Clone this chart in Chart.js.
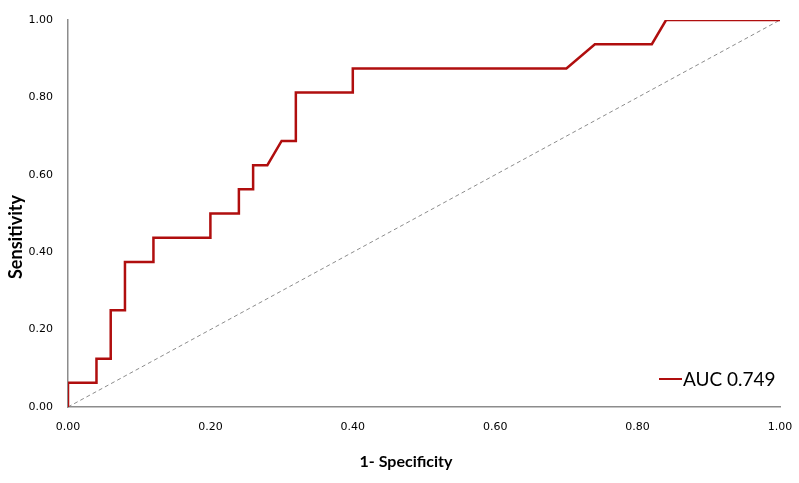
<!DOCTYPE html>
<html>
<head>
<meta charset="utf-8">
<script src="https://cdn.jsdelivr.net/npm/chart.js@4"></script>
<style>
  html, body { margin: 0; padding: 0; background: #fff; }
  #wrap { width: 799px; height: 483px; }
</style>
</head>
<body>
<div id="wrap"><canvas id="rocChart" width="799" height="483"></canvas></div>
<script>
  // ROC curve (1 - specificity vs sensitivity)
  const fpr = [0, 0, 0.04, 0.04, 0.06, 0.06, 0.08, 0.08, 0.12, 0.12, 0.20, 0.20, 0.24, 0.24,
               0.26, 0.26, 0.28, 0.30, 0.32, 0.32, 0.40, 0.40, 0.70, 0.74, 0.82, 0.84, 1.00];
  const tpr = [0, 0.0625, 0.0625, 0.125, 0.125, 0.25, 0.25, 0.375, 0.375, 0.4375, 0.4375, 0.5, 0.5, 0.5625,
               0.5625, 0.625, 0.625, 0.6875, 0.6875, 0.8125, 0.8125, 0.875, 0.875, 0.9375, 0.9375, 1, 1];
  const refX = [0, 1];
  const refY = [0, 1];
  const curveLabel = 'AUC 0.749';
  const xTitle = '1- Specificity';
  const yTitle = 'Sensitivity';

  const titleFont = 'bold 16px Lato, "Open Sans", sans-serif';

  // draws axis titles + the little legend inside the plot
  const extras = {
    id: 'extras',
    afterDraw(chart) {
      const c = chart.ctx;
      const area = chart.chartArea;
      c.save();
      c.fillStyle = '#000';
      c.textAlign = 'center';
      c.textBaseline = 'middle';
      c.font = titleFont;
      c.fillText(xTitle, 406, 462);
      c.translate(16, 237);
      c.rotate(-Math.PI / 2);
      c.font = 'bold 18px Lato, "Open Sans", sans-serif';
      c.fillText(yTitle, 0, 0);
      c.restore();

      // legend
      const ds = chart.data.datasets[0];
      c.save();
      c.strokeStyle = ds.borderColor;
      c.lineWidth = 2;
      c.beginPath();
      c.moveTo(area.right - 121, area.bottom - 28);
      c.lineTo(area.right - 98, area.bottom - 28);
      c.stroke();
      c.fillStyle = '#000';
      c.font = '19px Lato, "Open Sans", sans-serif';
      c.textBaseline = 'middle';
      c.textAlign = 'left';
      c.fillText(ds.label, area.right - 97, area.bottom - 27);
      c.restore();
    }
  };

  const ctx = document.getElementById('rocChart');
  new Chart(ctx, {
    type: 'scatter',
    data: {
      datasets: [
        {
          label: curveLabel,
          data: fpr.map((x, i) => ({ x, y: tpr[i] })),
          showLine: true,
          borderColor: '#B00E0E',
          borderWidth: 2.5,
          pointRadius: 0,
          tension: 0,
        },
        {
          label: 'reference',
          data: refX.map((x, i) => ({ x, y: refY[i] })),
          showLine: true,
          borderColor: '#8c8c8c',
          borderWidth: 1,
          borderDash: [4, 3],
          pointRadius: 0,
        }
      ]
    },
    options: {
      responsive: false,
      animation: false,
      layout: { padding: { top: 20, right: 19, left: 0, bottom: 0 } },
      plugins: {
        legend: { display: false },
        tooltip: { enabled: false }
      },
      scales: {
        x: {
          type: 'linear',
          min: 0, max: 1,
          ticks: {
            stepSize: 0.2,
            padding: 14,
            color: '#000',
            font: { family: '"DejaVu Sans"', size: 11 },
            callback: v => v.toFixed(2)
          },
          grid: { display: false, drawTicks: false },
          border: { display: true, color: '#8c8c8c', width: 1.5 },
          afterFit: s => { s.height = 76; s.paddingRight = 0; s.paddingLeft = 0; }
        },
        y: {
          type: 'linear',
          min: 0, max: 1,
          ticks: {
            stepSize: 0.2,
            padding: 15,
            color: '#000',
            font: { family: '"DejaVu Sans"', size: 11 },
            callback: v => v.toFixed(2)
          },
          grid: { display: false, drawTicks: false },
          border: { display: true, color: '#8c8c8c', width: 1.5 },
          afterFit: s => { s.width = 68; s.paddingTop = 0; s.paddingBottom = 0; }
        }
      }
    },
    plugins: [extras]
  });
</script>
</body>
</html>
